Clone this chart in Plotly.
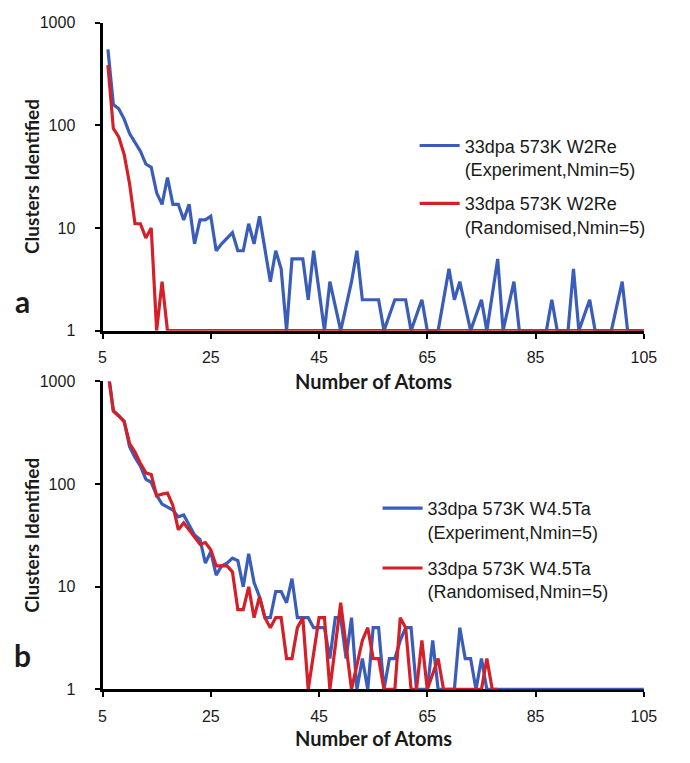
import plotly.graph_objects as go

# ---------------- data ----------------
sizes = list(range(6, 106))  # number of atoms (categories)

# Panel a: 33dpa 573K W2Re
a_exp = [550, 160, 145, 115, 83, 69, 56, 42, 39, 22,
         17, 31, 17, 17, 12, 17, 7, 12, 12, 13,
         6, 7, 8, 9, 6, 6, 11, 7, 13, 6,
         3, 6, 4, 1, 5, 5, 5, 2, 6, None,
         1, 3, None, 1, None, 3, 6, 2, 2, 2,
         2, 1, None, 2, 2, 2, 1, None, 2, 1,
         1, 1, None, 4, 2, 3, None, 1, None, 2,
         1, None, 5, 1, None, 3, 1, 1, 1, 1,
         1, 1, 2, 1, 1, 1, 4, 1, None, 2,
         1, 1, 1, 1, None, 3, 1, 1, 1, 1]
a_rand = [387, 93, 77, 52, 27, 11, 11, 8, 10, 1,
          3, 1, 1, 1, 1, 1, 1, 1, 1, 1,
          1, 1, 1, 1, 1, 1, 1, 1, 1, 1,
          1, 1, 1, 1, 1, 1, 1, 1, 1, 1,
          1, 1, 1, 1, 1, 1, 1, 1, 1, 1,
          1, 1, 1, 1, 1, 1, 1, 1, 1, 1,
          1, 1, 1, 1, 1, 1, 1, 1, 1, 1,
          1, 1, 1, 1, 1, 1, 1, 1, 1, 1,
          1, 1, 1, 1, 1, 1, 1, 1, 1, 1,
          1, 1, 1, 1, 1, 1, 1, 1, 1, 1]

# Panel b: 33dpa 573K W4.5Ta
b_exp = [1300, 520, 460, 410, 232, 182, 150, 112, 104, 78,
         64, 60, 56, 48, 50, 40, 32, 29, 17, 22,
         13, 16, 17, 19, 18, 10, 21, 11, 8, 5,
         5, 9, 9, 7, 12, 5, 5, 5, 4, 4,
         4, 2, 5, 5, 2, 5, 1, 2, 1, 4,
         4, 1, 2, 2, 3, 4, 4, 1, 1, 1,
         3, 1, 1, 1, 1, 4, 2, 2, 1, 2,
         1, 1, 1, 1, 1, 1, 1, 1, 1, 1,
         1, 1, 1, 1, 1, 1, 1, 1, 1, 1,
         1, 1, 1, 1, 1, 1, 1, 1, 1, 1]
b_rand = [1250, 515, 464, 407, 249, 205, 160, 129, 124, 77,
          80, 82, 62, 36, 42, 36, 30, 26, 27, 23,
          16, 16, 16, 14, 6, 6, 10, 5, 8, 5,
          4, 5, 5, 2, 2, 4, 5, 1, None, 5,
          5, 1, None, 7, None, 1, None, 3, 4, 2,
          2, 1, 1, 1, 5, 4, 1, 1, 3, 1,
          None, 2, 1, 1, 1, 1, 1, 1, 1, 1,
          2, 1, 1]
b_rand_sizes = sizes[:len(b_rand)]

x_ticks = [5, 25, 45, 65, 85, 105]
y_ticks = [1, 10, 100, 1000]
y_ticktext = ["1", "10", "100", "1000"]

names_a = ["33dpa 573K W2Re<br>(Experiment,Nmin=5)",
           "33dpa 573K W2Re<br>(Randomised,Nmin=5)"]
names_b = ["33dpa 573K W4.5Ta<br>(Experiment,Nmin=5)",
           "33dpa 573K W4.5Ta<br>(Randomised,Nmin=5)"]

BLUE = "#3A5DBA"
RED = "#D42129"
TXT = "#1a1a1a"
TICKFONT = dict(family="Liberation Sans, Arial, sans-serif", size=16, color=TXT)
BOLD = "Lato, Carlito, Calibri, sans-serif"

W, H = 690, 763

fig = go.Figure()
fig.add_trace(go.Scatter(x=sizes, y=a_exp, mode="lines", name=names_a[0],
                         line=dict(color=BLUE, width=3.2), connectgaps=True,
                         xaxis="x", yaxis="y", legend="legend", legendgroup="a1"))
fig.add_trace(go.Scatter(x=sizes, y=a_rand, mode="lines", name=names_a[1],
                         line=dict(color=RED, width=3.2), connectgaps=True,
                         xaxis="x", yaxis="y", legend="legend", legendgroup="a2"))
fig.add_trace(go.Scatter(x=sizes, y=b_exp, mode="lines", name=names_b[0],
                         line=dict(color=BLUE, width=3.2), connectgaps=True,
                         xaxis="x2", yaxis="y2", legend="legend2", legendgroup="b1"))
fig.add_trace(go.Scatter(x=b_rand_sizes, y=b_rand, mode="lines", name=names_b[1],
                         line=dict(color=RED, width=3.2), connectgaps=True,
                         xaxis="x2", yaxis="y2", legend="legend2", legendgroup="b2"))

xl, xr = 101 / W, 656 / W
top_a, bot_a = 15, 330
top_b, bot_b = 382, 697


def py(px):
    return 1 - px / H


common_x = dict(range=[5, 105], tickvals=x_ticks, showline=True, linecolor="black",
                linewidth=3, ticks="outside", ticklen=5, tickwidth=2, tickcolor="black",
                showgrid=False, zeroline=False, tickfont=TICKFONT, layer="below traces",
                ticklabelstandoff=5, domain=[xl, xr], fixedrange=True)
common_y = dict(type="log", range=[0, 3], tickvals=y_ticks, ticktext=y_ticktext,
                showline=True, linecolor="black", linewidth=3, ticks="outside",
                ticklen=5, tickwidth=2, tickcolor="black", showgrid=False,
                zeroline=False, tickfont=TICKFONT, layer="below traces",
                ticklabelstandoff=16, fixedrange=True)

legend_common = dict(font=dict(family="Liberation Sans, Arial, sans-serif", size=18, color=TXT),
                     bgcolor="rgba(0,0,0,0)", valign="top",
                     xanchor="left", yanchor="top", itemwidth=40)

fig.update_layout(
    width=W, height=H,
    margin=dict(l=0, r=0, t=0, b=0),
    paper_bgcolor="white", plot_bgcolor="white",
    showlegend=True,
    xaxis=dict(anchor="y", **common_x),
    yaxis=dict(anchor="x", domain=[py(bot_a), py(top_a)], **common_y),
    xaxis2=dict(anchor="y2", **common_x),
    yaxis2=dict(anchor="x2", domain=[py(bot_b), py(top_b)], **common_y),
    legend=dict(x=421 / W, y=py(122), tracegroupgap=8, **legend_common),
    legend2=dict(x=383 / W, y=py(493), tracegroupgap=10, **legend_common),
)

annots = [
    dict(text="<b>Clusters Identified</b>", x=28 / W, y=py((top_a + bot_a) / 2), textangle=-90, size=19),
    dict(text="<b>Clusters Identified</b>", x=28 / W, y=py((top_b + bot_b) / 2), textangle=-90, size=19),
    dict(text="<b>Number of Atoms</b>", x=(101 + 656) / 2 / W, y=py(381), textangle=0, size=20),
    dict(text="<b>Number of Atoms</b>", x=(101 + 656) / 2 / W, y=py(747), textangle=0, size=20),
]
for a in annots:
    fig.add_annotation(xref="paper", yref="paper", showarrow=False,
                       xanchor="center", yanchor="middle", text=a["text"],
                       x=a["x"], y=a["y"], textangle=a["textangle"],
                       font=dict(family=BOLD, size=a["size"], color=TXT))
for lbl, yy in [("a", 300), ("b", 662)]:
    fig.add_annotation(text="<b>" + lbl + "</b>", xref="paper", yref="paper", x=19 / W, y=py(yy),
                       showarrow=False, xanchor="center", yanchor="middle",
                       font=dict(family=BOLD, size=30, color=TXT))

fig.write_html("out.html")
